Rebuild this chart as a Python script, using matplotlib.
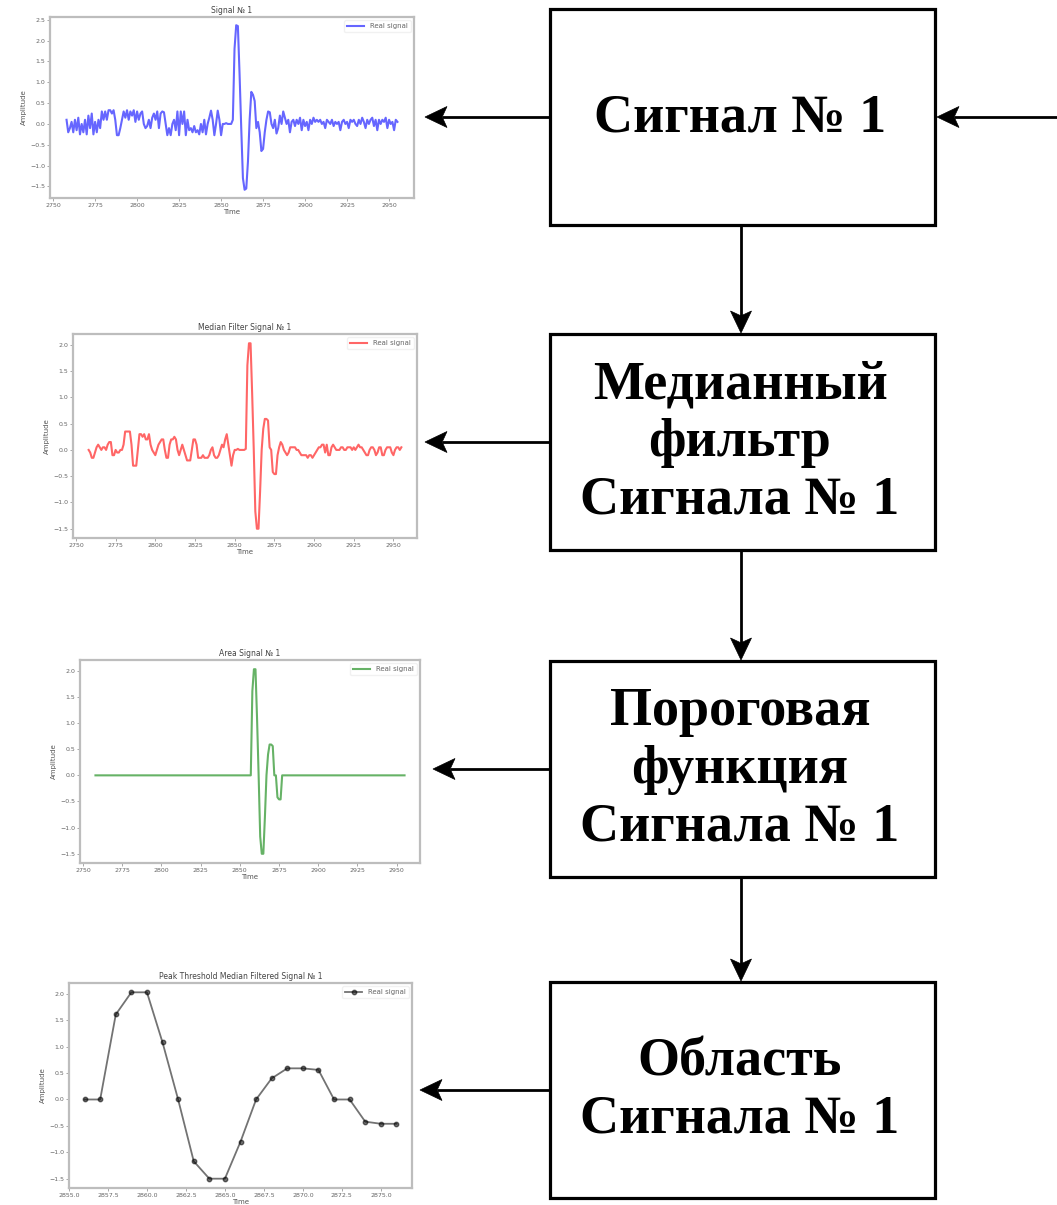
import matplotlib
matplotlib.use("Agg")
import matplotlib.pyplot as plt
import numpy as np
from matplotlib.patches import Rectangle, Polygon

# ---------------- data ----------------
time = np.arange(2758, 2956)

raw_signal = [
    0.1, -0.2, -0.1, 0.05, -0.2, 0.1, -0.15, 0.15, -0.25, 0.0,
    -0.2, 0.1, -0.25, 0.2, -0.1, 0.25, -0.25, 0.05, -0.2, 0.1,
    -0.1, 0.3, 0.1, 0.3, 0.1, 0.33, 0.33, 0.25, 0.33, 0.1,
    -0.27, -0.27, -0.1, 0.1, 0.3, 0.15, 0.33, 0.1, 0.3, 0.2,
    0.33, 0.05, 0.3, 0.1, 0.25, 0.3, 0.0, -0.1, -0.05, 0.1,
    -0.1, 0.15, 0.25, 0.1, 0.3, -0.1, 0.25, 0.3, 0.28, 0.0,
    -0.27, -0.1, -0.27, 0.0, 0.1, -0.15, 0.3, -0.27, 0.3, 0.0,
    0.3, -0.27, 0.1, -0.15, -0.1, -0.2, -0.05, -0.2, -0.15, -0.25,
    0.0, -0.2, 0.1, -0.25, 0.0, 0.15, 0.32, 0.1, -0.27, 0.0,
    0.32, 0.1, -0.27, 0.0, 0.0, 0.02, 0.0, 0.0,
    0.0, 0.1, 1.8, 2.37, 2.35, 1.2, -0.1, -1.3, -1.58, -1.55,
    -0.9, 0.1, 0.77, 0.7, 0.55, -0.1, 0.05, -0.2, -0.65, -0.6,
    -0.2, 0.1,
    0.3, 0.28, 0.0, -0.1, 0.1, -0.23, -0.1, 0.2, 0.0, 0.3,
    0.15, 0.0, 0.1, -0.2, 0.05, 0.1, -0.05, 0.1, 0.0, 0.15,
    -0.15, 0.1, -0.05, 0.05, -0.15, 0.1, 0.0, 0.15, 0.05, 0.1,
    0.05, 0.1, 0.0, 0.05, -0.1, 0.1, 0.05, 0.0, 0.1, -0.05,
    0.05, 0.0, 0.05, -0.15, 0.05, 0.1, 0.0, 0.05, -0.1, 0.1,
    0.05, 0.1, 0.0, -0.05, 0.1, 0.0, 0.15, 0.05, -0.1, 0.1,
    0.0, 0.1, 0.15, -0.05, 0.1, -0.15, 0.1, 0.0, 0.1, 0.05,
    0.15, -0.1, 0.1, 0.0, 0.05, -0.15, 0.1, 0.05,
]

median_signal = [
    0.0, -0.05, -0.15, -0.15, -0.05, 0.05, 0.1, 0.05, 0.0, 0.05,
    0.05, 0.0, 0.1, 0.15, 0.15, -0.1, -0.1, 0.0, -0.05, -0.05,
    0.0, 0.0, 0.1, 0.35, 0.35, 0.35, 0.35, 0.1, -0.3, -0.3,
    -0.3, 0.0, 0.3, 0.3, 0.25, 0.3, 0.2, 0.2, 0.3, 0.1,
    0.0, -0.05, -0.1, 0.0, 0.1, 0.15, 0.2, 0.2, 0.0, -0.15,
    -0.15, 0.1, 0.2, 0.2, 0.25, 0.2, 0.0, -0.1, 0.0, 0.1,
    0.0, -0.1, -0.2, -0.2, -0.2, 0.0, 0.2, 0.2, 0.1, -0.15,
    -0.15, -0.15, -0.1, -0.15, -0.15, -0.15, -0.1, 0.0, 0.05, -0.1,
    -0.15, -0.15, -0.1, 0.0, 0.1, 0.05, 0.2, 0.3, 0.1, -0.1,
    -0.3, -0.1, 0.0, 0.0, 0.02, 0.0, 0.0, 0.0,
    0.0, 0.02, 1.61, 2.03, 2.03, 1.08, 0.02, -1.17, -1.5, -1.5,
    -0.8, 0.0, 0.4, 0.59, 0.59, 0.56, 0.05, 0.0, -0.42, -0.46,
    -0.46, -0.1,
    0.05, 0.15, 0.1, 0.0, -0.05, -0.1, -0.05, 0.05, 0.05, 0.05,
    0.05, 0.0, 0.0, -0.05, -0.1, -0.1, -0.1, -0.1, -0.15, -0.1,
    -0.1, -0.15, -0.1, -0.05, 0.0, 0.05, 0.05, 0.1, 0.1, -0.05,
    0.1, -0.1, -0.1, 0.05, 0.1, 0.05, 0.0, 0.0, 0.0, 0.05,
    0.05, 0.0, 0.0, 0.05, 0.05, 0.05, 0.0, 0.05, 0.0, 0.05,
    0.1, 0.05, 0.05, 0.0, -0.05, -0.1, -0.1, 0.0, 0.05, 0.05,
    0.0, -0.1, -0.05, 0.05, 0.05, -0.1, -0.1, 0.0, 0.05, 0.05,
    0.05, -0.05, -0.1, 0.0, 0.05, 0.05, 0.0, 0.05,
]

area_time = np.arange(2856, 2877)
area_signal = [0.0, 0.0, 1.61, 2.03, 2.03, 1.08, 0.0, -1.17, -1.5, -1.5,
               -0.8, 0.0, 0.4, 0.59, 0.59, 0.56, 0.0, 0.0, -0.42, -0.46, -0.46]

threshold_signal = [0.0] * 98 + area_signal + [0.0] * 79

box_labels = ["Сигнал № 1",
              "Медианный\nфильтр\nСигнала № 1",
              "Пороговая\nфункция\nСигнала № 1",
              "Область\nСигнала № 1"]
chart_titles = ["Signal № 1", "Median Filter Signal № 1",
                "Area Signal № 1", "Peak Threshold Median Filtered Signal № 1"]
legend_label = "Real signal"

# ---------------- figure ----------------
W, H = 1057, 1205
fig = plt.figure(figsize=(W / 100, H / 100), dpi=100)

ov = fig.add_axes([0, 0, 1, 1])
ov.set_xlim(0, W)
ov.set_ylim(H, 0)
ov.axis("off")

boxes = [(550, 9, 935, 225), (550, 334, 935, 550),
         (550, 661, 935, 877), (550, 982, 935, 1198)]
for (l, t, r, b), lab in zip(boxes, box_labels):
    ov.add_patch(Rectangle((l, t), r - l, b - t, fill=False, lw=2.3, ec="black"))
    ov.text(740, (t + b) / 2 + 1, lab, ha="center", va="center",
            family="Liberation Serif", fontweight="bold", fontsize=39,
            linespacing=1.2, color="black")


def arrow(x0, y0, x1, y1, hl=22, hw=21):
    d = np.array([x1 - x0, y1 - y0], float)
    L = np.hypot(*d)
    d /= L
    n = np.array([-d[1], d[0]])
    tip = np.array([x1, y1], float)
    back = tip - d * hl
    notch = tip - d * hl * 0.78
    ov.plot([x0, notch[0]], [y0, notch[1]], color="black", lw=2.0,
            solid_capstyle="butt")
    ov.add_patch(Polygon([tip, back + n * hw / 2, notch, back - n * hw / 2],
                         closed=True, fc="black", ec="black", lw=0.5))


arrow(1057, 117, 937, 117)
arrow(550, 117, 425, 117)
arrow(550, 442, 425, 442)
arrow(550, 769, 433, 769)
arrow(550, 1090, 420, 1090)
arrow(741, 225, 741, 333)
arrow(741, 550, 741, 660)
arrow(741, 877, 741, 981)


def make_chart(l, t, r, b, x, y, color, title, marker=None):
    ax = fig.add_axes([l / W, 1 - b / H, (r - l) / W, (b - t) / H])
    if marker:
        ax.plot(x, y, color="black", alpha=0.55, lw=1.3, marker="o",
                markersize=3.2, markerfacecolor="black", markeredgecolor="black",
                label=legend_label)
    else:
        ax.plot(x, y, color=color, alpha=0.6, lw=1.5, label=legend_label)
    ax.set_title(title, fontsize=5.5, pad=3, color="#444444")
    ax.set_xlabel("Time", fontsize=5, labelpad=1, color="#555555")
    ax.set_ylabel("Amplitude", fontsize=5, labelpad=2, color="#555555")
    ax.tick_params(labelsize=4.5, length=2, width=0.6, pad=1.5,
                   colors="#999999", labelcolor="#666666")
    for s in ax.spines.values():
        s.set_color("#bdbdbd")
        s.set_linewidth(1.6)
    leg = ax.legend(loc="upper right", fontsize=5, frameon=True,
                    handlelength=2.5, borderpad=0.4)
    leg.get_frame().set_edgecolor("#eeeeee")
    for tx in leg.get_texts():
        tx.set_color("#666666")
    return ax


make_chart(50, 17, 414, 198, time, raw_signal, "blue", chart_titles[0])
make_chart(73, 334, 417, 538, time, median_signal, "red", chart_titles[1])
make_chart(80, 660, 420, 863, time, threshold_signal, "green", chart_titles[2])
make_chart(69, 983, 412, 1188, area_time, area_signal, "black", chart_titles[3],
           marker=True)

fig.savefig("out.png", dpi=100)
